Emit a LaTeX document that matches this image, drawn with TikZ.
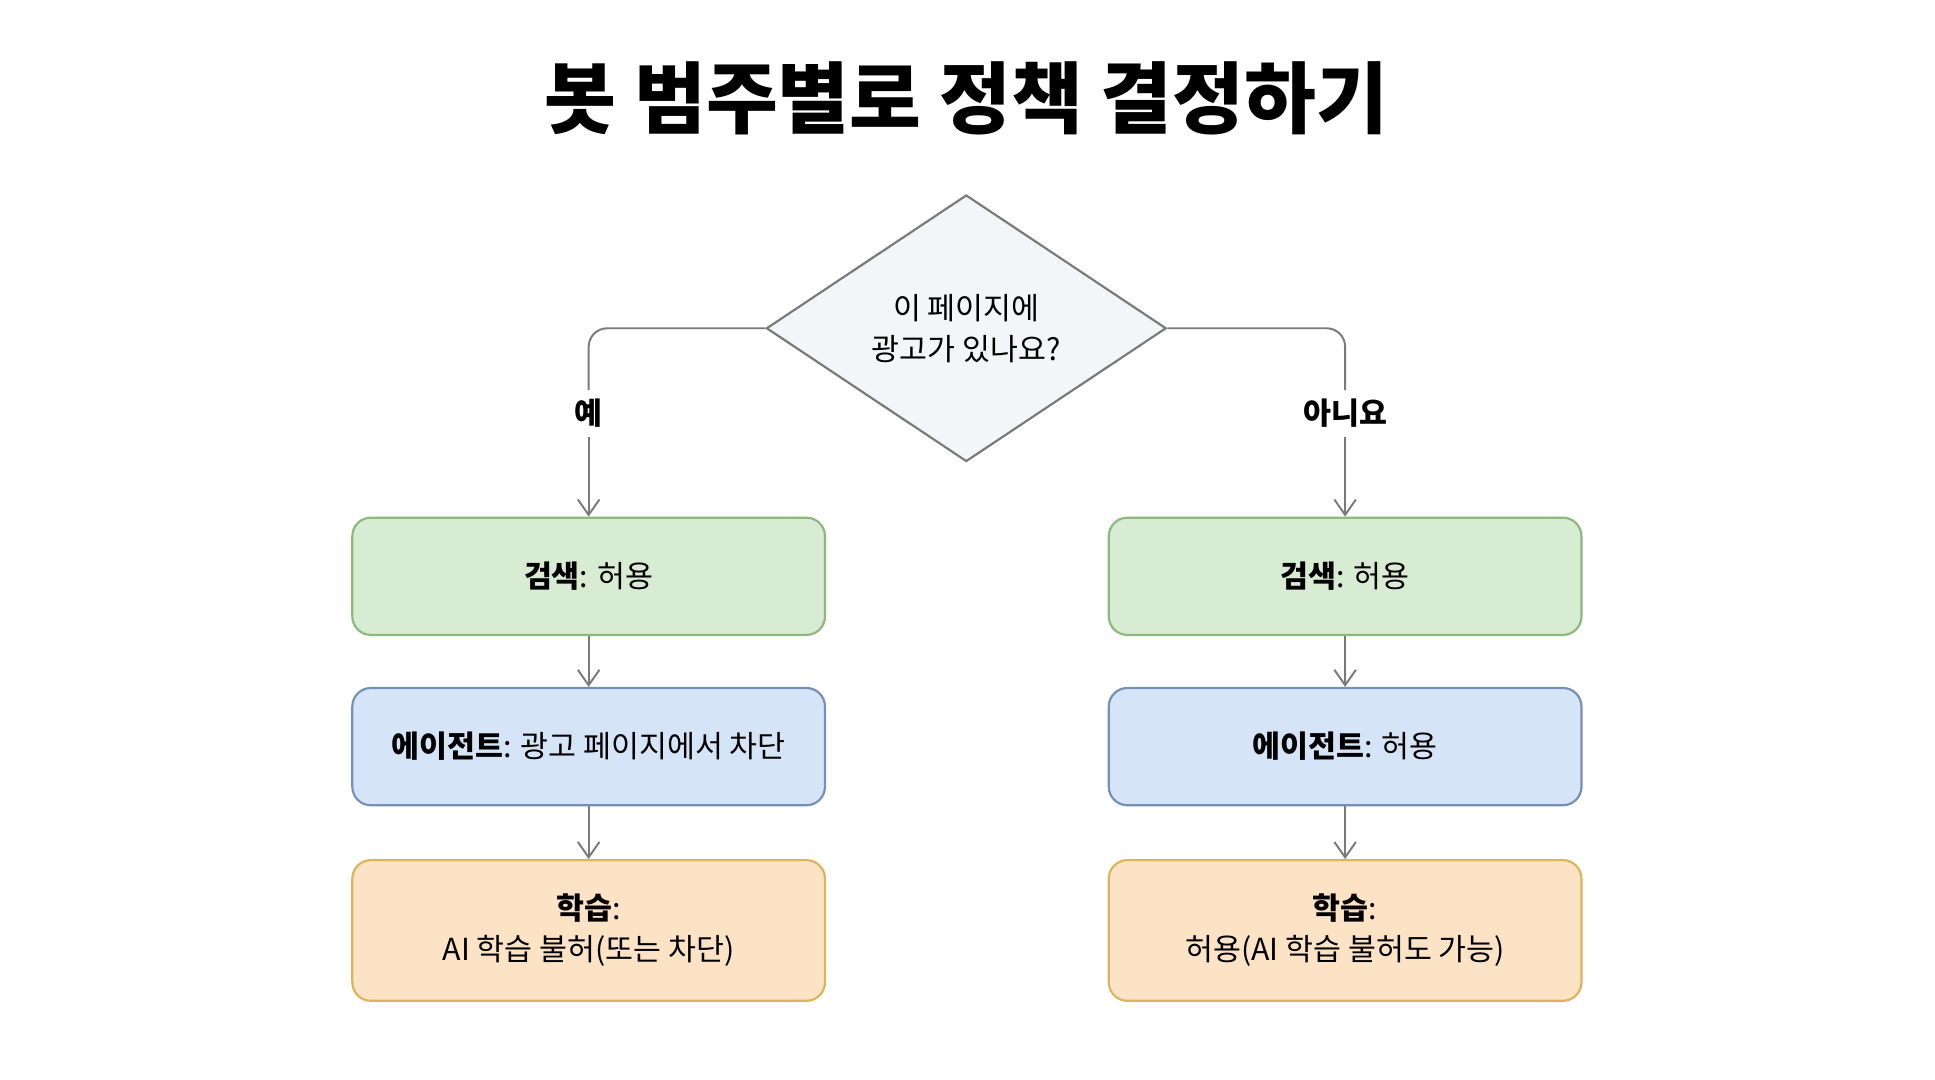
\documentclass[tikz,border=0pt]{standalone}
\usepackage{fontspec}
\setmainfont{Noto Sans CJK KR}
\usetikzlibrary{shapes.geometric,arrows.meta}
\definecolor{gfill}{HTML}{D8EBD3}\definecolor{gline}{HTML}{8DB87E}
\definecolor{bfill}{HTML}{D6E4F8}\definecolor{bline}{HTML}{7490B8}
\definecolor{ofill}{HTML}{FDE3C6}\definecolor{oline}{HTML}{DDB35E}
\definecolor{dfill}{HTML}{F3F5F8}\definecolor{lgray}{HTML}{7A7A7A}
\begin{document}
\begin{tikzpicture}[x=0.02cm,y=-0.02cm,>={Straight Barb[length=2.5mm,width=3.5mm]},
	box/.style={rectangle,rounded corners=3mm,line width=1pt,minimum width=383*0.02cm,font=\fontsize{14}{19}\selectfont,align=center},
	green/.style={box,fill=gfill,draw=gline,minimum height=95*0.02cm},
	blue/.style={box,fill=bfill,draw=bline,minimum height=95*0.02cm},
	orange/.style={box,fill=ofill,draw=oline,minimum height=114*0.02cm},
	lbl/.style={font=\bfseries\fontsize{14}{17}\selectfont,fill=white,inner sep=4pt},
	link/.style={draw=lgray,line width=0.9pt}]
	\fill[white] (0,0) rectangle (1568,875);
	\node (title) at (783,80) {\bfseries\fontsize{36}{40}\selectfont 봇 범주별로 정책 결정하기};
	\node[diamond,draw=lgray,fill=dfill,line width=1pt,minimum width=324*0.02cm,minimum height=216*0.02cm,inner sep=0pt,aspect=1.5,align=center,font=\fontsize{14}{19}\selectfont] (ask) at (783,266) {이 페이지에\\광고가 있나요?};
	\node[lbl] (yes) at (477,335) {예};
	\node[lbl] (no) at (1090,335) {아니요};
	% left column
	\node[green] (ls) at (477,467) {\textbf{검색}: 허용};
	\node[blue] (la) at (477,605) {\textbf{에이전트}: 광고 페이지에서 차단};
	\node[orange] (lt) at (477,754) {\textbf{학습}:\\AI 학습 불허(또는 차단)};
	% right column
	\node[green] (rs) at (1090,467) {\textbf{검색}: 허용};
	\node[blue] (ra) at (1090,605) {\textbf{에이전트}: 허용};
	\node[orange] (rt) at (1090,754) {\textbf{학습}:\\허용(AI 학습 불허도 가능)};
	\draw[link,rounded corners=3mm] (ask.west) -| (yes.north);
	\draw[link,rounded corners=3mm] (ask.east) -| (no.north);
	\draw[link,->] (yes) -- (ls);
	\draw[link,->] (no) -- (rs);
	\draw[link,->] (ls) -- (la);
	\draw[link,->] (la) -- (lt);
	\draw[link,->] (rs) -- (ra);
	\draw[link,->] (ra) -- (rt);
\end{tikzpicture}
\end{document}
